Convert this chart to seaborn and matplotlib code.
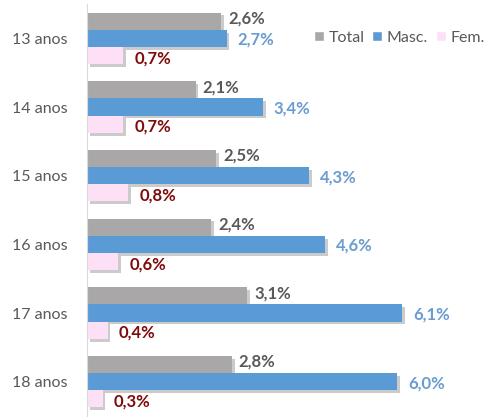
import pandas as pd
import matplotlib.pyplot as plt
import matplotlib.patheffects as pe
import seaborn as sns

idades = ['13 anos', '14 anos', '15 anos', '16 anos', '17 anos', '18 anos']
total = [2.6, 2.1, 2.5, 2.4, 3.1, 2.8]
masc = [2.7, 3.4, 4.3, 4.6, 6.1, 6.0]
fem = [0.7, 0.7, 0.8, 0.6, 0.4, 0.3]

grupos = ['Total', 'Masc.', 'Fem.']
cores = ['#A9A7A7', '#5B9BD5', '#FDE0F6']
cores_txt = ['#595959', '#6A9BD1', '#7F0A0A']

df = pd.DataFrame({
    'idade': idades * 3,
    'valor': total + masc + fem,
    'grupo': [g for g in grupos for _ in idades],
})

sns.set_style('white')
plt.rcParams['font.family'] = ['Lato', 'DejaVu Sans']

fig = plt.figure(figsize=(4.91, 4.19), dpi=100)
ax = fig.add_axes([87 / 491, 3 / 419, 404 / 491, 412 / 419])

sns.barplot(data=df, x='valor', y='idade', hue='grupo', orient='h',
            palette=cores, width=0.75, ax=ax, saturation=1)

sombra = [pe.SimplePatchShadow(offset=(2, -2), shadow_rgbFace='#7f7f7f', alpha=0.4), pe.Normal()]
for cont, cor, pad, dy in zip(ax.containers, cores_txt, [5, 8, 8], [2, -1, -2]):
    for bar in cont:
        bar.set_path_effects(sombra)
        bar.set_linewidth(0)
    txts = ax.bar_label(cont, labels=[f'{b.get_width():.1f}%'.replace('.', ',') for b in cont],
                        padding=pad, color=cor, fontsize=12, fontweight='bold')
    for t in txts:
        x, y = t.xyann
        t.xyann = (x, y + dy)

ax.set_xlim(0, 404 / 51.7)
ax.set_xlabel('')
ax.set_ylabel('')
ax.set_xticks([])
ax.tick_params(axis='y', length=0, labelsize=11.5, labelcolor='#595959', pad=14)
for s in ['top', 'right', 'bottom']:
    ax.spines[s].set_visible(False)
ax.spines['left'].set_color('#D9D9D9')

ax.legend(loc='upper right', bbox_to_anchor=(1.0, 0.95), ncol=3, frameon=False,
          fontsize=11.5, handlelength=0.6, handleheight=0.6, handletextpad=0.3,
          columnspacing=0.5, labelcolor='#595959', borderaxespad=0)

plt.savefig('out.png', dpi=100)
